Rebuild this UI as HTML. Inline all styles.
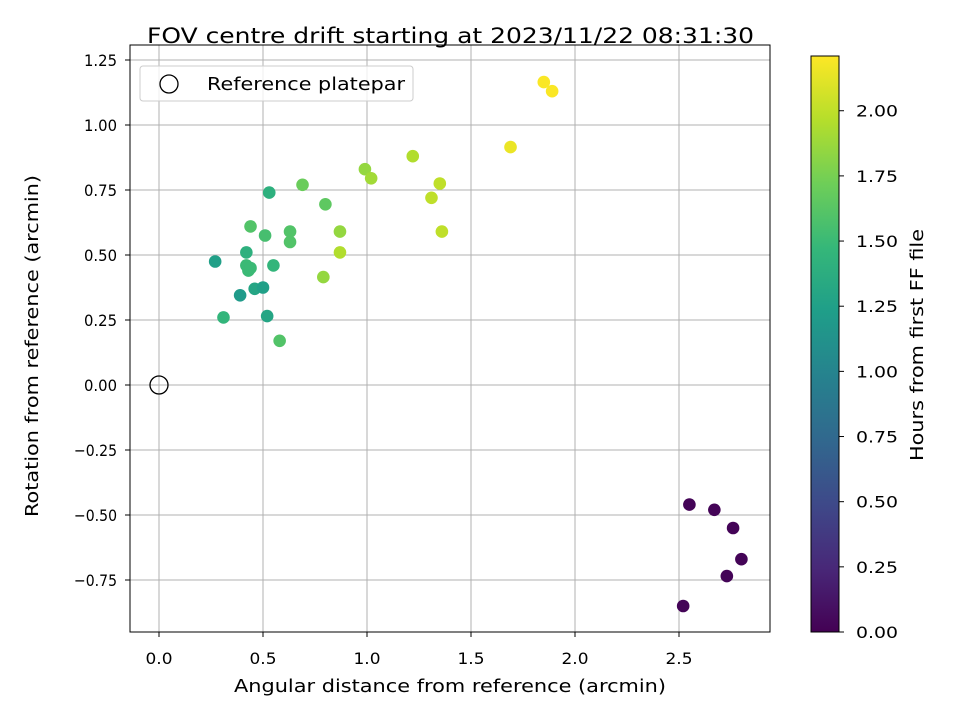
<!DOCTYPE html>
<html><head><meta charset="utf-8"><style>
body{margin:0;background:#fff}
svg{display:block;font-family:"DejaVu Sans","Liberation Sans",sans-serif}
</style></head><body>
<svg id="chart" width="960" height="720" viewBox="0 0 960 720">
<defs><linearGradient id="vir" x1="0" y1="1" x2="0" y2="0">
<stop offset="0" stop-color="#440154"/><stop offset="0.111" stop-color="#482878"/><stop offset="0.222" stop-color="#3e4989"/><stop offset="0.333" stop-color="#31688e"/><stop offset="0.444" stop-color="#26828e"/><stop offset="0.556" stop-color="#1f9e89"/><stop offset="0.667" stop-color="#35b779"/><stop offset="0.778" stop-color="#6ece58"/><stop offset="0.889" stop-color="#b5de2b"/><stop offset="1" stop-color="#fde725"/></linearGradient></defs>
<g id="grid"></g>
<g id="pts"></g>
<rect x="130" y="45" width="640" height="587" fill="none" stroke="#000" stroke-width="1"/>
<g id="ticks"></g>
<text x="147" y="43" style="font-size:21px" textLength="607" lengthAdjust="spacingAndGlyphs">FOV centre drift starting at 2023/11/22 08:31:30</text>
<text x="234" y="692" style="font-size:17.5px" textLength="432" lengthAdjust="spacingAndGlyphs">Angular distance from reference (arcmin)</text>
<text transform="translate(38,517) rotate(-90)" style="font-size:17.5px" textLength="342" lengthAdjust="spacingAndGlyphs">Rotation from reference (arcmin)</text>
<g>
<rect x="140" y="66" width="273" height="35" rx="3" fill="#fff" fill-opacity="0.8" stroke="#ccc"/>
<circle cx="169" cy="84" r="9" fill="none" stroke="#000" stroke-width="1.3"/>
<text x="207" y="90" style="font-size:17.5px" textLength="198" lengthAdjust="spacingAndGlyphs">Reference platepar</text>
</g>
<rect x="811" y="56" width="28" height="576" fill="url(#vir)" stroke="#000" stroke-width="1"/>
<g id="cticks"></g>
<text transform="translate(923,461) rotate(-90)" style="font-size:17.5px" textLength="232" lengthAdjust="spacingAndGlyphs">Hours from first FF file</text>
</svg>
<script>
const xs=[0.27,0.31,0.39,0.42,0.42,0.43,0.44,0.44,0.46,0.50,0.51,0.52,0.53,0.55,0.58,0.63,0.63,0.69,0.80,0.79,0.87,0.87,0.99,1.02,1.22,1.31,1.35,1.36,1.69,1.85,1.89,2.55,2.67,2.76,2.80,2.73,2.52];
const ys=[0.475,0.26,0.345,0.51,0.46,0.44,0.45,0.61,0.37,0.375,0.575,0.265,0.74,0.46,0.17,0.55,0.59,0.77,0.695,0.415,0.59,0.51,0.83,0.795,0.88,0.72,0.775,0.59,0.915,1.165,1.13,-0.46,-0.48,-0.55,-0.67,-0.735,-0.85];
const hours=[1.25,1.45,1.2,1.4,1.5,1.5,1.5,1.6,1.3,1.25,1.55,1.3,1.4,1.45,1.6,1.6,1.6,1.7,1.65,1.85,1.85,1.95,1.85,1.9,1.95,2.0,2.0,2.0,2.15,2.2,2.2,0.02,0.02,0.02,0.02,0.02,0.02];
const xTicks=[0,0.5,1,1.5,2,2.5];
const yTicks=[-0.75,-0.5,-0.25,0,0.25,0.5,0.75,1,1.25];
const cTicks=[0,0.25,0.5,0.75,1,1.25,1.5,1.75,2];
const tMax=2.21;
const X=v=>159+v*208, Y=v=>385-v*260, C=v=>632-v*576/tMax;
const NS="http://www.w3.org/2000/svg";
const stops=[[68,1,84],[72,40,120],[62,73,137],[49,104,142],[38,130,142],[31,158,137],[53,183,121],[110,206,88],[181,222,43],[253,231,37]];
function vir(t){t=Math.max(0,Math.min(1,t))*(stops.length-1);const i=Math.min(Math.floor(t),stops.length-2),f=t-i;
const c=stops[i].map((a,k)=>Math.round(a+(stops[i+1][k]-a)*f));return `rgb(${c})`;}
function mk(tag,at,parent){const e=document.createElementNS(NS,tag);for(const k in at)e.setAttribute(k,at[k]);parent.appendChild(e);return e;}
const g=document.getElementById('grid'),tk=document.getElementById('ticks'),pts=document.getElementById('pts'),ct=document.getElementById('cticks');
xTicks.forEach(v=>{
const l=mk('line',{x1:X(v),x2:X(v),y1:45,y2:632,stroke:'#b0b0b0','stroke-width':1},g);


const t=mk('line',{x1:X(v),x2:X(v),y1:632,y2:637,stroke:'#000'},tk);


const s=mk('text',{x:X(v)-13.5,y:664,style:'font-size:16px',textLength:27,lengthAdjust:'spacingAndGlyphs'},tk);s.textContent=v.toFixed(1);


});
yTicks.forEach(v=>{
const l=mk('line',{x1:130,x2:770,y1:Y(v),y2:Y(v),stroke:'#b0b0b0','stroke-width':1},g);


const t=mk('line',{x1:125,x2:130,y1:Y(v),y2:Y(v),stroke:'#000'},tk);


const w=v<0?43:33;
const s=mk('text',{x:117-w,y:Y(v)+6,style:'font-size:16px',textLength:w,lengthAdjust:'spacingAndGlyphs'},tk);s.textContent=(v<0?'\u2212':'')+Math.abs(v).toFixed(2);


});
const ref=mk('circle',{cx:X(0),cy:Y(0),r:9,fill:'none',stroke:'#000','stroke-width':1.3},pts);


xs.forEach((v,i)=>{
const c=mk('circle',{cx:X(v),cy:Y(ys[i]),r:6.3,fill:vir(hours[i]/tMax)},pts);


});
cTicks.forEach(v=>{
const t=mk('line',{x1:839,x2:844,y1:C(v),y2:C(v),stroke:'#000'},ct);


const s=mk('text',{x:856,y:C(v)+6,style:'font-size:16px',textLength:42,lengthAdjust:'spacingAndGlyphs'},ct);s.textContent=v.toFixed(2);


});
</script>
</body></html>
